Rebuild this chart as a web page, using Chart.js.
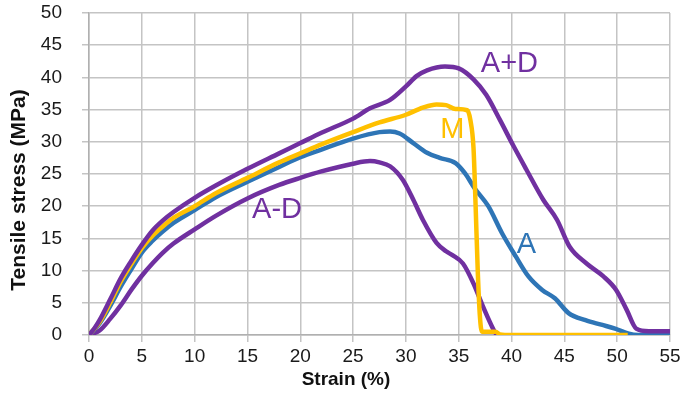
<!DOCTYPE html>
<html>
<head>
<meta charset="utf-8">
<script src="https://cdn.jsdelivr.net/npm/chart.js@4.4.0/dist/chart.umd.min.js"></script>
<style>
  html, body { margin: 0; padding: 0; background: #fff; }
  #wrap { width: 681px; height: 396px; }
</style>
</head>
<body>
<div id="wrap"><canvas id="tensileChart" width="681" height="396"></canvas></div>
<script>
// values (strain %, stress MPa)
const strainAD_plus = [0, 0.5, 1, 2, 3, 4, 5, 6, 7, 8, 10, 12, 15, 18, 20, 22, 25, 26.6, 28.5, 30, 31, 32, 33.7, 35, 36.4, 37.6, 38.9, 40.2, 41.4, 43, 44.3, 45.5, 47.1, 48.7, 49.9, 50.9, 51.8, 53, 55];
const stressAD_plus = [0, 1, 2.3, 5.5, 8.8, 11.5, 14, 16.2, 17.8, 19.1, 21.3, 23.2, 25.8, 28.2, 29.8, 31.4, 33.6, 35.2, 36.5, 38.6, 40.2, 41.1, 41.7, 41.4, 39.7, 37.3, 33.4, 29.3, 25.7, 21, 17.9, 13.7, 11.1, 9.1, 7, 3.9, 1, 0.6, 0.6];

const strainM = [0, 1, 2, 3, 4, 5, 6, 7, 8, 10, 12, 15, 18, 20, 22, 25, 27.5, 30, 31.6, 32.9, 33.8, 34.7, 35.8, 36.1, 36.4, 36.6, 36.8, 37, 37.2, 38.5, 38.9, 40, 45, 51];
const stressM = [0, 2, 5, 8.3, 11, 13.5, 15.4, 16.9, 18.2, 20, 22, 24.4, 26.8, 28.2, 29.6, 31.5, 33, 34.2, 35.3, 35.8, 35.7, 35.1, 34.9, 33.4, 29, 20, 10, 3, 0.5, 0.5, 0.1, 0, 0, 0];

const strainA = [0, 1, 2, 3, 4, 5, 6, 7, 8, 10, 12, 15, 18, 20, 22, 25, 27.5, 28.5, 29.4, 30.7, 32, 33.2, 34.7, 35.6, 36.5, 37.8, 39.1, 40.4, 41.6, 42.9, 44.1, 45.4, 47, 48.5, 49.8, 51.1, 52, 55];
const stressA = [0, 1.8, 4.5, 7.5, 10.2, 12.8, 14.6, 16.1, 17.4, 19.4, 21.4, 23.8, 26.1, 27.6, 28.8, 30.5, 31.5, 31.6, 31.3, 29.8, 28.3, 27.5, 26.7, 25.1, 22.8, 20, 15.8, 12.2, 9.1, 7, 5.7, 3.4, 2.3, 1.6, 1, 0.2, 0, 0.1];

const strainAD_minus = [0, 1, 2, 3, 4, 5, 6, 7, 8, 10, 12, 15, 18, 20, 22, 25, 26.6, 27.5, 28.5, 29.7, 30.7, 31.6, 32.9, 33.8, 34.4, 35.4, 36.4, 37.3, 38.3, 38.6];
const stressAD_minus = [0, 0.7, 2.5, 4.6, 7, 9.2, 11.1, 12.8, 14.2, 16.4, 18.5, 21.2, 23.3, 24.4, 25.4, 26.6, 27, 26.8, 26.2, 24.1, 21, 17.9, 14.3, 13, 12.4, 11.1, 8, 4.4, 0.8, 0];

const xTicks = [0, 5, 10, 15, 20, 25, 30, 35, 40, 45, 50, 55];
const yTicks = [0, 5, 10, 15, 20, 25, 30, 35, 40, 45, 50];

const seriesNames = ['A+D', 'M', 'A', 'A-D'];
const seriesColors = ['#7030A0', '#FFC000', '#2E75B6', '#7030A0'];
// where each curve's name sits, in data units
const labelStrain = [39.8, 34.4, 41.4, 17.8];
const labelStress = [42.1, 31.9, 14, 19.4];

const xTitle = 'Strain (%)';
const yTitle = 'Tensile stress (MPa)';

function toPoints(xs, ys) {
    return xs.map((x, i) => ({ x: x, y: ys[i] }));
}

const FONT = '"Liberation Sans", Arial, sans-serif';

const curveLabels = {
    id: 'curveLabels',
    afterDatasetsDraw(chart) {
        const ctx = chart.ctx;
        const xs = chart.scales.x;
        const ys = chart.scales.y;
        ctx.save();
        ctx.font = '29px ' + FONT;
        ctx.textAlign = 'center';
        ctx.textBaseline = 'middle';
        seriesNames.forEach((name, i) => {
            ctx.fillStyle = seriesColors[i];
            ctx.fillText(name, xs.getPixelForValue(labelStrain[i]), ys.getPixelForValue(labelStress[i]));
        });
        ctx.restore();
    }
};

const axisTitles = {
    id: 'axisTitles',
    afterDraw(chart) {
        const ctx = chart.ctx;
        ctx.save();
        ctx.fillStyle = '#111';
        ctx.font = 'bold 19px ' + FONT;
        ctx.textAlign = 'center';
        ctx.textBaseline = 'middle';
        ctx.fillText(xTitle, 346, 380);
        ctx.translate(19, 190);
        ctx.rotate(-Math.PI / 2);
        ctx.font = 'bold 21px ' + FONT;
        ctx.fillText(yTitle, 0, 0);
        ctx.restore();
    }
};

const lineSets = [
    toPoints(strainAD_plus, stressAD_plus),
    toPoints(strainM, stressM),
    toPoints(strainA, stressA),
    toPoints(strainAD_minus, stressAD_minus)
];

new Chart(document.getElementById('tensileChart').getContext('2d'), {
    type: 'line',
    data: {
        datasets: lineSets.map((pts, i) => ({
            label: seriesNames[i],
            data: pts,
            borderColor: seriesColors[i],
            backgroundColor: seriesColors[i],
            borderWidth: 4.5,
            pointRadius: 0,
            fill: false,
            cubicInterpolationMode: 'monotone'
        }))
    },
    options: {
        responsive: false,
        animation: false,
        devicePixelRatio: 1,
        layout: { padding: { left: 0, right: 11, top: 13, bottom: 0 } },
        plugins: {
            legend: { display: false },
            tooltip: { enabled: false }
        },
        scales: {
            x: {
                type: 'linear',
                min: 0,
                max: 55,
                afterBuildTicks: (s) => { s.ticks = xTicks.map(v => ({ value: v })); },
                afterFit: (s) => { s.height = 61; s.paddingLeft = 0; s.paddingRight = 0; },
                grid: { color: '#C4C4C4', lineWidth: 1.5, tickLength: 7 },
                border: { color: '#B0B0B0', width: 1.5 },
                ticks: { color: '#1a1a1a', padding: 3, maxRotation: 0, font: { family: FONT, size: 19 } }
            },
            y: {
                min: 0,
                max: 50,
                afterBuildTicks: (s) => { s.ticks = yTicks.map(v => ({ value: v })); },
                afterFit: (s) => { s.width = 89; s.paddingTop = 0; s.paddingBottom = 0; },
                grid: { color: '#C4C4C4', lineWidth: 1.5, tickLength: 7 },
                border: { color: '#B0B0B0', width: 1.5 },
                ticks: { color: '#1a1a1a', padding: 20, font: { family: FONT, size: 19 } }
            }
        }
    },
    plugins: [curveLabels, axisTitles]
});
</script>
</body>
</html>
